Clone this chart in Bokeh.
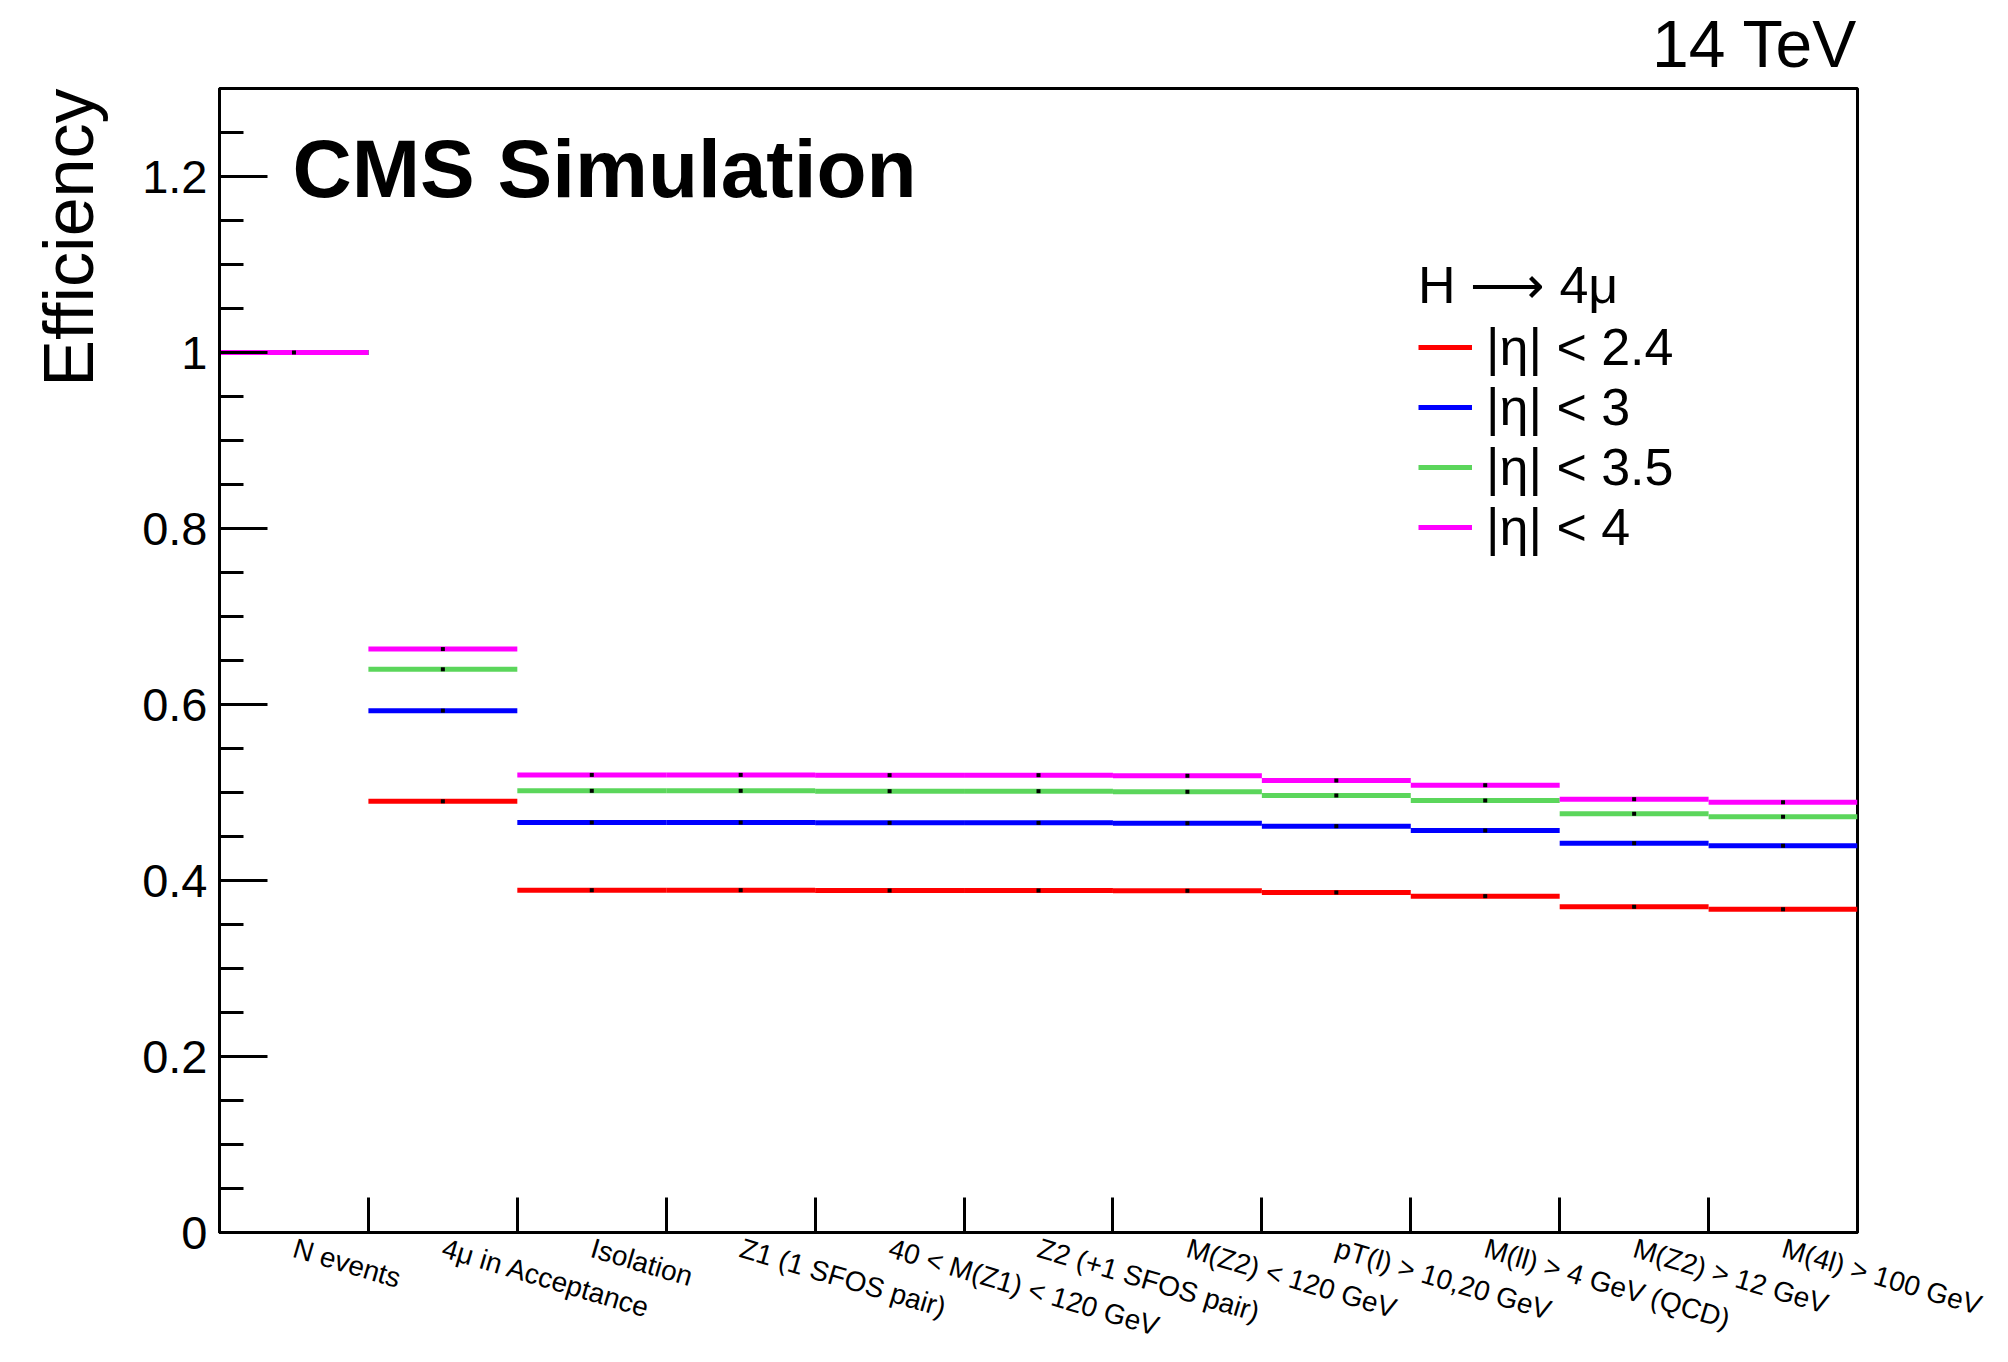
import numpy as np
from bokeh.plotting import figure
from bokeh.models import Range1d, FixedTicker, Label, Legend, LegendItem, Title
from bokeh.embed import file_html
from bokeh.resources import INLINE

# ---- data ----
categories = ["N events", "4\u03bc in Acceptance", "Isolation", "Z1 (1 SFOS pair)",
              "40 < M(Z1) < 120 GeV", "Z2 (+1 SFOS pair)", "M(Z2) < 120 GeV",
              "pT(l) > 10,20 GeV", "M(ll) > 4 GeV (QCD)", "M(Z2) > 12 GeV",
              "M(4l) > 100 GeV"]
eff_eta24 = [1.0, 0.490, 0.389, 0.389, 0.3886, 0.3886, 0.3883, 0.3864, 0.3822, 0.3701, 0.3674]
eff_eta3 = [1.0, 0.593, 0.4659, 0.4659, 0.4655, 0.4655, 0.4651, 0.4617, 0.4568, 0.4424, 0.4394]
eff_eta35 = [1.0, 0.640, 0.5019, 0.5019, 0.5015, 0.5015, 0.5008, 0.4966, 0.4909, 0.4758, 0.4724]
eff_eta4 = [1.0, 0.663, 0.520, 0.520, 0.5197, 0.5197, 0.5190, 0.5136, 0.5083, 0.4924, 0.4890]
series_labels = ["|\u03b7| < 2.4", "|\u03b7| < 3", "|\u03b7| < 3.5", "|\u03b7| < 4"]
series_colors = ["#FF0000", "#0000FF", "#5BD65B", "#FF00FF"]
y_ticks = [0, 0.2, 0.4, 0.6, 0.8, 1, 1.2]
y_tick_labels = ["0", "0.2", "0.4", "0.6", "0.8", "1", "1.2"]

FONT = "Liberation Sans"
n = len(categories)
edges = np.arange(n + 1)
centers = edges[:-1] + 0.5

W, H = 2000, 1362
p = figure(width=W, height=H, output_backend="svg", toolbar_location=None,
           x_range=Range1d(0, n), y_range=Range1d(0, 1.3),
           min_border_left=219, min_border_right=W - 1857, min_border_top=88,
           min_border_bottom=H - 1232)
p.xgrid.visible = False
p.ygrid.visible = False
p.outline_line_color = "black"
p.outline_line_width = 3
p.background_fill_color = "white"
p.border_fill_color = "white"

# top-right energy label as plot title
p.title.text = "14 TeV"
p.title.align = "right"
p.title.vertical_align = "top"
p.title.text_font = FONT
p.title.text_font_size = "66px"
p.title.text_font_style = "normal"
p.title.text_color = "black"
p.title.standoff = 12

# x axis: category labels at bin centres, tick marks at bin edges (minor ticks)
xa = p.xaxis[0]
xa.ticker = FixedTicker(ticks=list(centers), minor_ticks=list(edges))
xa.major_label_overrides = {float(c): t for c, t in zip(centers, categories)}
xa.major_label_orientation = -16.5 * np.pi / 180
xa.major_tick_in = 0
xa.major_tick_out = 0
xa.minor_tick_in = 35
xa.minor_tick_out = 0
xa.minor_tick_line_width = 3
xa.minor_tick_line_color = "black"
xa.axis_line_width = 3
xa.major_label_standoff = 15
xa.major_label_text_font = FONT
xa.major_label_text_font_size = "28px"
xa.major_label_text_color = "black"

# y axis
minor = [round(0.05 * k, 2) for k in range(0, 27)]
p.yaxis.ticker = FixedTicker(ticks=y_ticks, minor_ticks=minor)
p.yaxis.major_label_overrides = {t: s for t, s in zip(y_ticks, y_tick_labels)}
p.yaxis.major_tick_in = 48
p.yaxis.major_tick_out = 0
p.yaxis.minor_tick_in = 24
p.yaxis.minor_tick_out = 0
p.yaxis.major_tick_line_width = 3
p.yaxis.minor_tick_line_width = 3
p.yaxis.axis_line_width = 3
p.yaxis.major_label_standoff = 12
p.yaxis.major_label_text_font = FONT
p.yaxis.major_label_text_font_size = "47px"
p.yaxis.major_label_text_color = "black"

# y axis title
p.add_layout(Title(text="Efficiency", align="right", vertical_align="top", text_font=FONT,
                   text_font_size="70px", text_font_style="normal", text_color="black",
                   standoff=59), "left")

# histograms
renderers = []
for vals, col in zip([eff_eta24, eff_eta3, eff_eta35, eff_eta4], series_colors):
    r = p.segment(x0=edges[:-1], x1=edges[1:], y0=vals, y1=vals,
                  line_color=col, line_width=5)
    p.scatter(x=centers, y=vals, marker="square", size=4,
              fill_color="black", line_color=None)
    renderers.append(r)

legend = Legend(items=[LegendItem(label=lab, renderers=[r]) for lab, r in zip(series_labels, renderers)],
                location=(1199, 675), title="H \u27f6 4\u03bc",
                title_text_font=FONT, title_text_font_size="52px", title_text_font_style="normal",
                title_text_color="black",
                title_standoff=2, padding=0, margin=0, spacing=0,
                glyph_width=54, glyph_height=20, label_standoff=14,
                label_text_font=FONT, label_text_font_size="52px", label_text_color="black",
                border_line_alpha=0, background_fill_alpha=0)
p.add_layout(legend)

# CMS label (frame-relative pixels)
p.add_layout(Label(x=73, y=1064, x_units="screen", y_units="screen", text="CMS Simulation",
                   text_align="left", text_baseline="alphabetic", text_font=FONT,
                   text_font_style="bold", text_font_size="82px", text_color="black"))

open("out.html", "w").write(file_html(p, INLINE))
